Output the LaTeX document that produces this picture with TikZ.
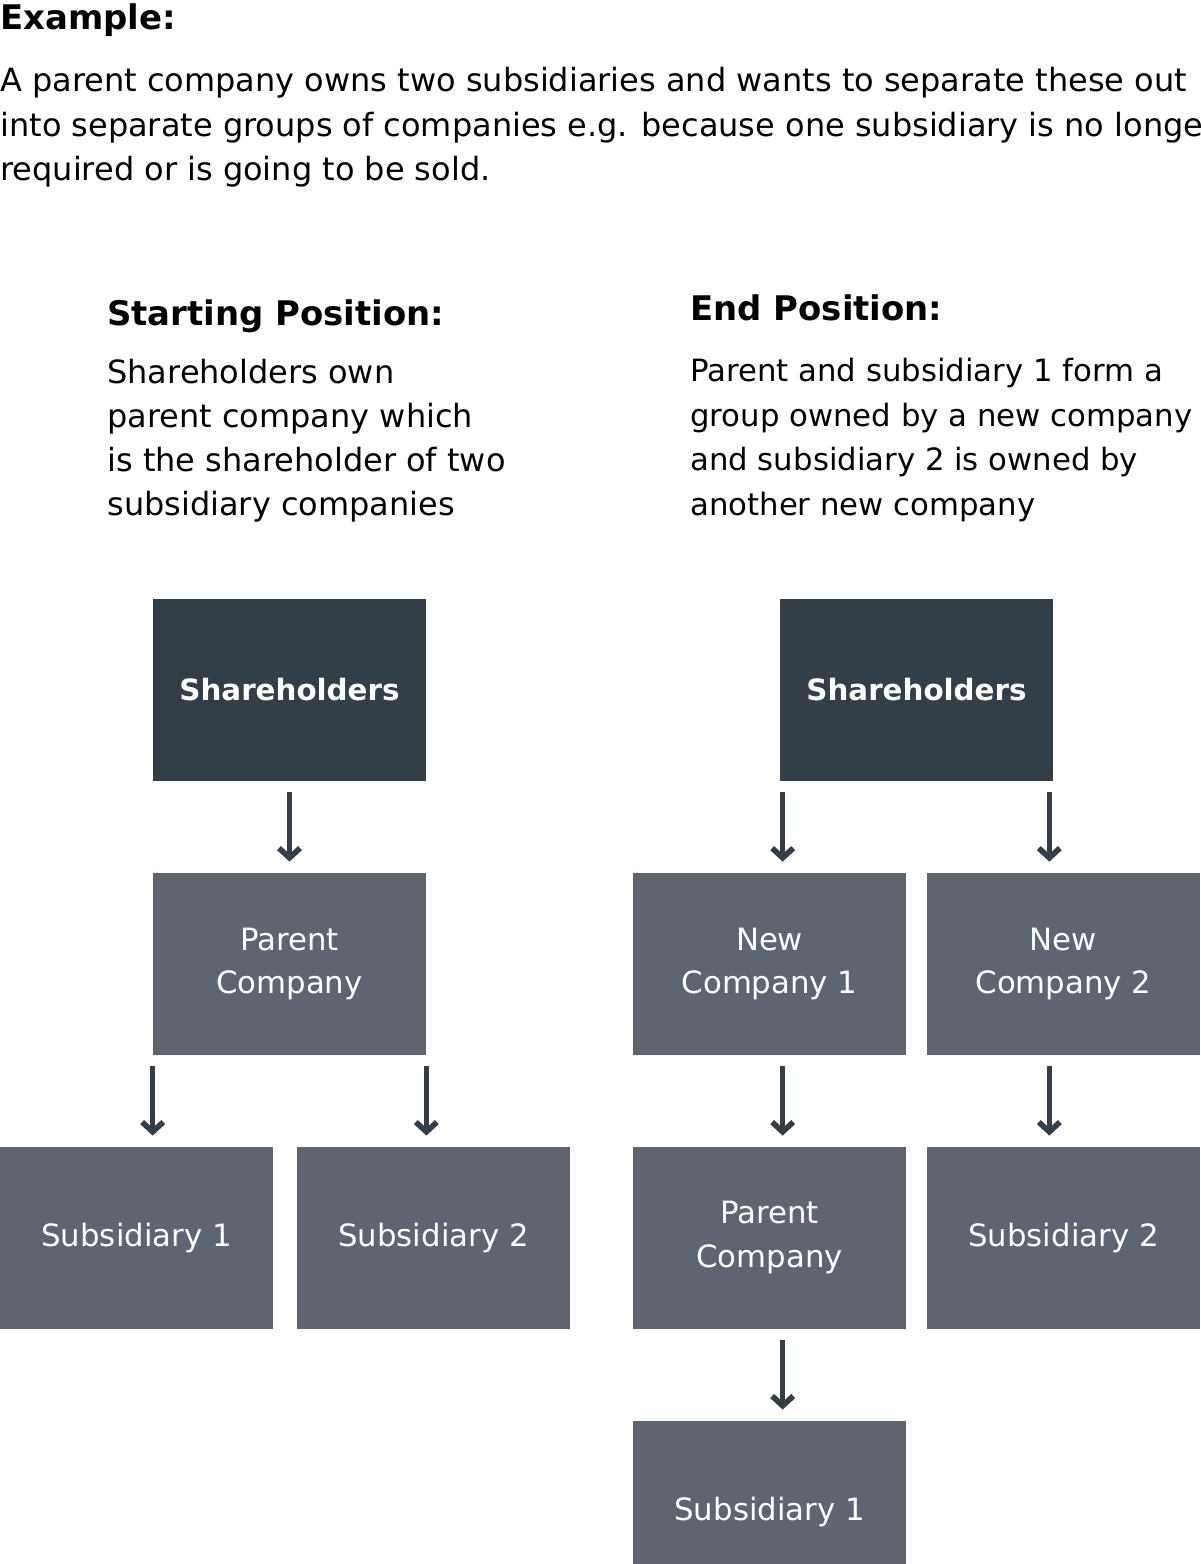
\documentclass[tikz,border=0pt]{standalone}
\usepackage{fontspec}
\setmainfont{DejaVu Sans}
\usetikzlibrary{arrows.meta}
\definecolor{darkbox}{HTML}{333F48}
\definecolor{greybox}{HTML}{5D6670}

\begin{document}
\begin{tikzpicture}
  [x=0.02cm,y=-0.02cm,node distance=5.48cm,
   box/.style={fill=greybox,text=white,minimum width=5.46cm,minimum height=3.64cm,
     inner sep=0pt,align=center,font=\fontsize{17.5}{25}\selectfont},
   topbox/.style={box,fill=darkbox,font=\fontsize{16.7}{25}\selectfont\bfseries},
   head/.style={anchor=base west,inner sep=0pt,font=\fontsize{19.3}{24}\selectfont\bfseries},
   para/.style={anchor=north west,inner sep=0pt,align=left,font=\fontsize{18.2}{25.3}\selectfont},
   arr/.style={draw=darkbox,line width=2.6pt,-{Straight Barb[length=5.5pt,width=12pt,line width=3.2pt]},
     shorten <=0.22cm,shorten >=0.22cm}]

  \useasboundingbox (0,0) rectangle (1200,1564);

  % texts
  \node (ex) [head] at (0,30) {Example:};
  \node (intro) [para] at (0,67) {A parent company owns two subsidiaries and wants to separate these out\\
    into separate groups of companies e.g. because one subsidiary is no longer\\
    required or is going to be sold.};
  \node (starthead) [head] at (107,325) {Starting Position:};
  \node (starttext) [para,font=\fontsize{18.2}{25}\selectfont] at (107,359) {Shareholders own\\
    parent company which\\is the shareholder of two\\subsidiary companies};
  \node (endhead) [head] at (690,320) {End Position:};
  \node (endtext) [para,font=\fontsize{17.5}{25.3}\selectfont] at (690,358) {Parent and subsidiary 1 form a\\
    group owned by a new company\\and subsidiary 2 is owned by\\another new company};

  % starting position
  \node (sh1) [topbox] at (289.5,690) {Shareholders};
  \node (pc1) [box, below of=sh1] {Parent\\Company};
  \node (sub1) [box, below of=pc1, xshift=-3.06cm] {Subsidiary 1};
  \node (sub2) [box, below of=pc1, xshift=2.88cm] {Subsidiary 2};

  % end position
  \node (sh2) [topbox] at (916.5,690) {Shareholders};
  \node (nc1) [box, below of=sh2, xshift=-2.94cm] {New\\Company 1};
  \node (nc2) [box, below of=sh2, xshift=2.94cm] {New\\Company 2};
  \node (pc2) [box, below of=nc1] {Parent\\Company};
  \node (sub2b) [box, below of=nc2] {Subsidiary 2};
  \node (sub1b) [box, below of=pc2] {Subsidiary 1};

  \draw[arr] (sh1) -- (pc1);
  \draw[arr] (pc1.south west) -- (pc1.south west |- sub1.north);
  \draw[arr] (pc1.south east) -- (pc1.south east |- sub2.north);

  \coordinate (lx) at ([xshift=0.06cm]sh2.south west);
  \coordinate (rx) at ([xshift=-0.08cm]sh2.south east);
  \draw[arr] (lx) -- (lx |- nc1.north);
  \draw[arr] (rx) -- (rx |- nc2.north);
  \draw[arr] (nc1.south -| lx) -- (pc2.north -| lx);
  \draw[arr] (nc2.south -| rx) -- (sub2b.north -| rx);
  \draw[arr] (pc2.south -| lx) -- (sub1b.north -| lx);
\end{tikzpicture}
\end{document}
